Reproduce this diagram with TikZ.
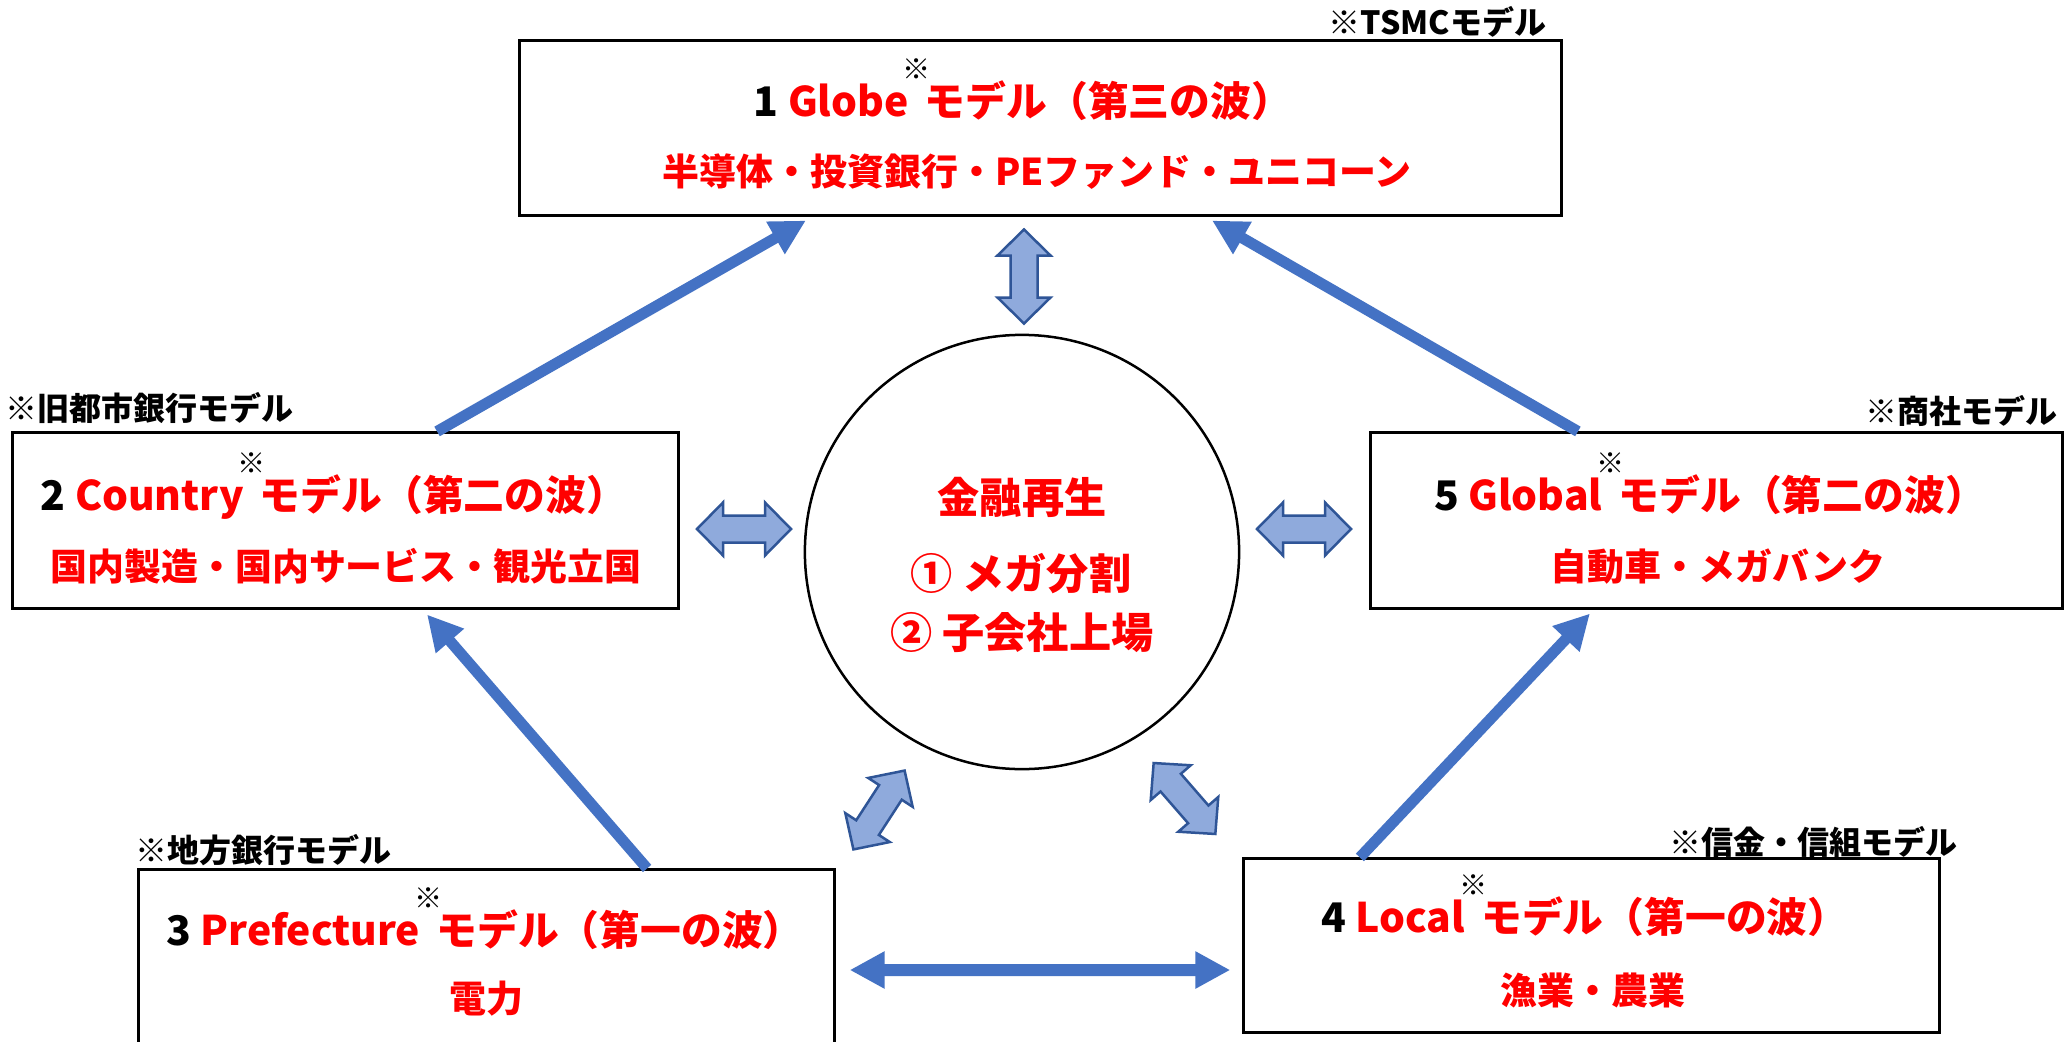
\documentclass[tikz,border=0pt]{standalone}
\usepackage{fontspec}
\setmainfont{Noto Sans CJK JP}
\usetikzlibrary{arrows.meta}
\definecolor{arrowblue}{HTML}{4472C4}
\definecolor{blockfill}{HTML}{8FAADC}
\definecolor{blockdraw}{HTML}{2F5597}
\definecolor{myred}{HTML}{FF0000}
\newcommand\kome{\hspace{0.2em}\makebox[0pt]{\raisebox{10.4pt}{\color{black}\mdseries\fontsize{8}{9}\selectfont ※}}\hspace{0.2em}}
\begin{document}
\begin{tikzpicture}[x=0.01cm,y=-0.01cm,
  box/.style={draw=black, line width=0.03cm, rectangle, inner sep=0pt},
  ttl/.style={text=myred, font=\bfseries\fontsize{11.6}{13}\selectfont, anchor=base, inner sep=0pt},
  sub/.style={text=myred, font=\bfseries\fontsize{10.5}{12}\selectfont, anchor=base, inner sep=0pt},
  core/.style={text=myred, font=\bfseries\fontsize{12}{14}\selectfont, anchor=base, inner sep=0pt},
  note/.style={text=black, font=\bfseries\fontsize{9.1}{10}\selectfont, inner sep=0pt},
  bigarrow/.style={draw=arrowblue, line width=0.11cm, -{Triangle[length=0.35cm,width=0.35cm]}},
  blockarrow/.style={fill=blockfill, draw=blockdraw, line width=0.025cm, line join=miter},
  barrow/.pic={\draw[blockarrow] (-47,0) -- (-21,-26.5) -- (-21,-13.5) -- (21,-13.5) -- (21,-26.5) -- (47,0) -- (21,26.5) -- (21,13.5) -- (-21,13.5) -- (-21,26.5) -- cycle;}
]
\useasboundingbox (0,0) rectangle (2065,1042);
\clip (0,0) rectangle (2065,1042);
\fill[white] (0,0) rectangle (2065,1042);

% boxes
\node[box, minimum width=10.41cm, minimum height=1.74cm] (b1) at (1040.5,128) {};
\node[box, minimum width=6.65cm, minimum height=1.75cm] (b2) at (345.5,520.5) {};
\node[box, minimum width=6.91cm, minimum height=1.75cm] (b5) at (1716.5,520.5) {};
\node[box, minimum width=6.95cm, minimum height=2.00cm] (b3) at (486.5,970) {};
\node[box, minimum width=6.95cm, minimum height=1.73cm] (b4) at (1591.5,945.5) {};
\node[draw=black, line width=0.025cm, circle, minimum size=4.34cm, inner sep=0pt] (cc) at (1022,552) {};

% box texts
\node[ttl] (t1) at (1023,116) {\textcolor{black}{1} Globe\kome モデル（第三の波）};
\node[sub] (s1) at (1037,185) {半導体・投資銀行・PEファンド・ユニコーン};
\node[ttl] (t2) at (334,510) {\textcolor{black}{2} Country\kome モデル（第二の波）};
\node[sub] (s2) at (346,580) {国内製造・国内サービス・観光立国};
\node[ttl] (t5) at (1710,510) {\textcolor{black}{5} Global\kome モデル（第二の波）};
\node[sub] (s5) at (1718,580) {自動車・メガバンク};
\node[ttl] (t3) at (485,945) {\textcolor{black}{3} Prefecture\kome モデル（第一の波）};
\node[sub] (s3) at (486,1012) {電力};
\node[ttl] (t4) at (1585,932) {\textcolor{black}{4} Local\kome モデル（第一の波）};
\node[sub] (s4) at (1593,1004) {漁業・農業};

% notes
\node[note, anchor=base east] (l1) at (1547,34) {※TSMCモデル};
\node[note, anchor=base west] (l2) at (5,420) {※旧都市銀行モデル};
\node[note, anchor=base east] (l5) at (2058,423) {※商社モデル};
\node[note, anchor=base west] (l3) at (135,862) {※地方銀行モデル};
\node[note, anchor=base east] (l4) at (1958,854) {※信金・信組モデル};

% center texts
\node[core] (ct1) at (1022,513) {金融再生};
\node[core] (ct2) at (1021,589) {① メガ分割};
\node[core] (ct3) at (1022,648) {② 子会社上場};

% big arrows
\draw[bigarrow] ([xshift=0.915cm]b2.north) -- ([xshift=-2.345cm,yshift=-0.04cm]b1.south);
\draw[bigarrow] ([xshift=-1.385cm]b5.north) -- ([xshift=1.715cm,yshift=-0.04cm]b1.south);
\draw[bigarrow] ([xshift=1.605cm]b3.north) -- ([xshift=0.815cm,yshift=-0.05cm]b2.south);
\draw[bigarrow] ([xshift=-2.315cm]b4.north) -- ([xshift=-1.265cm,yshift=-0.04cm]b5.south);
\draw[draw=arrowblue, line width=0.12cm, {Triangle[length=0.35cm,width=0.35cm]}-{Triangle[length=0.35cm,width=0.35cm]}]
  ([xshift=0.14cm]b3.east) -- ([xshift=-0.12cm,yshift=-0.245cm]b4.west);

% block arrows
\pic[rotate=90] (ba1) at (1024,276.5) {barrow};
\pic (ba2) at (744,529) {barrow};
\pic (ba3) at (1304,529) {barrow};
\pic[rotate=57] (ba4) at (879,810) {barrow};
\pic[rotate=-49] (ba5) at (1184.5,798.5) {barrow};
\end{tikzpicture}
\end{document}
